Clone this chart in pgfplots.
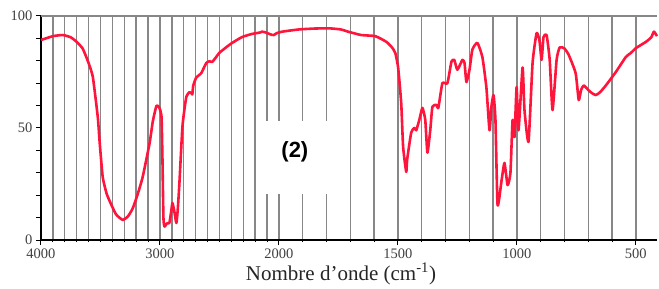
\documentclass[border=0pt]{standalone}
\usepackage{pgfplots}
\pgfplotsset{compat=1.18}
\usepackage{pgfplotstable}
\usepackage{fontspec}
\setmainfont{Liberation Serif}
\newfontfamily\arial{Liberation Sans}
\definecolor{spec}{RGB}{255,20,60}
\definecolor{gridg}{RGB}{135,135,135}
\pgfplotstableread{
wn T
4000 89.3
3900 91.0
3816 91.5
3750 90.5
3699 88.4
3650 85.5
3607 80
3565 73
3523 55
3506 43
3481 28
3450 21
3423 17.4
3370 11.5
3314 9
3270 10.5
3230 14
3190 20
3146 28
3088 43
3060 53
3029 60
3005 59
2987 55
2979 36
2971 10
2962 6
2940 7.5
2921 7.6
2905 13
2895 16.5
2880 13
2862 7.6
2850 14
2837 25
2812 50
2795 58
2778 64
2753 66
2735 65.5
2728 65
2720 69
2695 72.5
2653 74.5
2611 79
2585 79.8
2561 79.5
2530 81.5
2502 83.5
2444 86
2393 88
2310 90.6
2226 92
2160 92.6
2142 93
2120 92.8
2100 92.4
2060 91.6
2042 91.5
2020 92.3
1987 93
1916 94
1850 94.4
1789 94.5
1740 94
1709 93
1654 91.5
1595 91
1549 88.5
1525 86
1511 83.5
1499 77
1486 61
1478 41.5
1465 30.4
1461 36
1444 48
1431 50
1423 49
1410 53.6
1397 59
1385 53.6
1376 39
1364 49
1355 59.5
1338 60.3
1330 59
1313 70
1292 70
1275 79.6
1263 80.4
1250 76
1229 80.4
1220 79
1212 70.5
1199 76
1187 85
1166 88
1145 81.7
1128 68
1115 49
1107 59.5
1098 64.7
1090 53.6
1081 15.6
1064 26.8
1052 34.4
1039 24.5
1027 30
1018 53.6
1010 46
1001 68.3
993 49
976 77
968 58
951 43.8
934 79
917 92.4
905 89
896 80.4
888 90.6
875 91.5
862 80.4
850 58
833 80.4
820 86
800 85.5
782 82.6
753 74.5
740 62.5
730 67
719 69
700 67
685 65.6
668 64.7
650 66
626 69
584 75
542 81.7
521 83.5
499 85.7
457 88.5
435 90.5
424 93
411 91
}\spectrum
\begin{document}
\begin{tikzpicture}
\begin{axis}[
  at={(0,0)}, anchor=south west,
  scale only axis, width=616bp, height=224bp,
  xmin=0, xmax=2589, ymin=0, ymax=100,
  axis x line*=bottom, axis y line*=left,
  axis line style={line width=1.5bp, black},
  xtick={0,500,1000,1500,2000,2500},
  xticklabels={4000,3000,2000,1500,1000,500},
  minor xtick={50,100,150,200,250,300,350,400,450,550,600,650,700,750,800,850,900,950,1100,1200,1300,1400,1600,1700,1800,1900,2100,2200,2300,2400,2500},
  ytick={0,50,100},
  minor ytick={10,20,30,40,60,70,80,90},
  xmajorgrids, xminorgrids,
  grid style={line width=1.4bp, gridg},
  minor grid style={line width=1.4bp, gridg},
  tick align=outside,
  major tick length=5bp, minor tick length=5bp,
  xtick style={line width=1bp, black},
  ytick style={line width=1bp, black},
  minor x tick style={/pgfplots/minor tick length=2bp},
  tick label style={font=\fontsize{14.5bp}{16bp}\selectfont, text=black!75},
  /pgf/number format/assume math mode=true,
  xlabel={Nombre d’onde (cm\textsuperscript{-1})},
  xlabel style={font=\fontsize{21bp}{24bp}\selectfont, text=black!85, at={(ticklabel cs:0.487)}, anchor=north, yshift=2bp},
  clip=false,
]
\addplot[spec, line width=2.6bp, line join=round, smooth, tension=0.3]
  table[x expr={\thisrow{wn}>=2000 ? (4000-\thisrow{wn})/2 : 3000-\thisrow{wn}}, y=T] {\spectrum};
\fill[white] (axis cs:907,20.5) rectangle (axis cs:1283,53.1);
\node[font=\arial\bfseries\fontsize{22bp}{24bp}\selectfont] at (axis cs:1067,39.3) {(2)};
\draw[gridg, line width=1.4bp] (rel axis cs:0,1) -- (rel axis cs:1,1);
\end{axis}
\pgfresetboundingbox
\path[use as bounding box] (-41bp,-49bp) rectangle (618bp,240bp);
\end{tikzpicture}
\end{document}
